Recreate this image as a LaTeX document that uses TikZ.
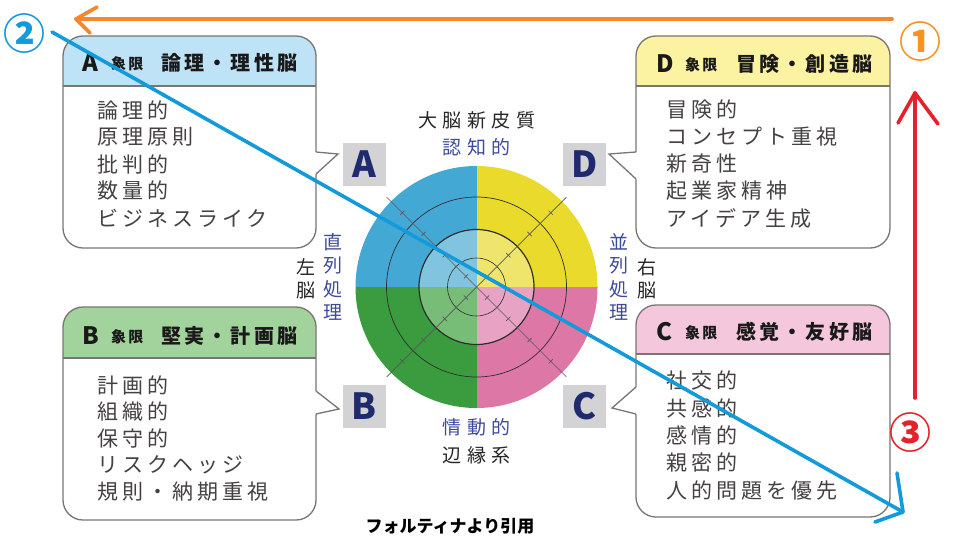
\documentclass[tikz,border=0pt]{standalone}
\usepackage{fontspec}
\usetikzlibrary{calc}
\setmainfont{Noto Sans CJK JP}
\newfontfamily\bodyfont[LetterSpace=19]{Noto Sans CJK JP}
\newfontfamily\hdfont[LetterSpace=16]{Noto Sans CJK JP}
\newfontfamily\smallhd[LetterSpace=15]{Noto Sans CJK JP}
\newfontfamily\midfont[LetterSpace=29]{Noto Sans CJK JP}
\newfontfamily\plainjp{Noto Sans CJK JP}
\definecolor{hdrA}{HTML}{BEE3F6}
\definecolor{hdrD}{HTML}{FBF2A2}
\definecolor{hdrB}{HTML}{A3D39C}
\definecolor{hdrC}{HTML}{F4C7DC}
\definecolor{qA}{HTML}{43A9D4}
\definecolor{qD}{HTML}{E9DA2B}
\definecolor{qB}{HTML}{3A9C3E}
\definecolor{qC}{HTML}{DD77A6}
\definecolor{iA}{HTML}{80C4E0}
\definecolor{iD}{HTML}{F0E56C}
\definecolor{iB}{HTML}{77BD77}
\definecolor{iC}{HTML}{E8A3C4}
\definecolor{navy}{HTML}{1F2B6C}
\definecolor{lblue}{HTML}{3D4A9C}
\definecolor{bodygray}{HTML}{454141}
\definecolor{bline}{HTML}{7A7473}
\definecolor{sqgray}{HTML}{D3D3D6}
\definecolor{arrOrange}{HTML}{F7872C}
\definecolor{arrRed}{HTML}{E6212B}
\definecolor{arrBlue}{HTML}{139ADB}
\definecolor{numOrange}{HTML}{F7931E}
\definecolor{ringline}{HTML}{2E2E2E}
\newcommand\quadbox[6]{%
  \fill[white,rounded corners=20pt] (#1,#2) rectangle (#3,#4);
  \begin{scope}
    \clip[rounded corners=20pt] (#1,#2) rectangle (#3,#4);
    \fill[#6] (#1,#2) rectangle (#3,#5);
  \end{scope}
  \draw[boxline] (#1,#5) -- (#3,#5);
  \draw[boxline,rounded corners=20pt] (#1,#2) rectangle (#3,#4);}
\tikzset{
  boxline/.style={draw=bline,line width=1.3pt},
  bodytxt/.style={anchor=west,inner sep=0pt,text=bodygray,font=\bodyfont\fontsize{21}{27}\selectfont},
  hdletter/.style={anchor=west,inner sep=0pt,text=black!90,font=\plainjp\bfseries\fontsize{24}{24}\selectfont},
  hdsmall/.style={anchor=west,inner sep=0pt,text=black!90,font=\smallhd\bfseries\fontsize{15}{15}\selectfont},
  hdtitle/.style={anchor=west,inner sep=0pt,text=black!90,font=\hdfont\bfseries\fontsize{20}{20}\selectfont},
  sqlabel/.style={fill=sqgray,minimum size=43pt,inner sep=0pt,text=navy,font=\plainjp\bfseries\fontsize{36}{36}\selectfont},
  midblack/.style={inner sep=0pt,text=black!85,font=\midfont\fontsize{19}{19}\selectfont},
  midblue/.style={inner sep=0pt,text=lblue,font=\midfont\fontsize{19}{19}\selectfont},
  vertblue/.style={inner sep=0pt,align=center,text=lblue,font=\plainjp\fontsize{19}{23.5}\selectfont},
  vertblack/.style={inner sep=0pt,align=center,text=black!85,font=\plainjp\fontsize{19}{23}\selectfont},
  arrowline/.style={line width=3.6pt,line cap=round,line join=round},
  circnum/.style={inner sep=0pt,font=\plainjp\bfseries\fontsize{42}{42}\selectfont}
}
\begin{document}
\begin{tikzpicture}[x=1pt,y=-1pt]
\useasboundingbox (0,0) rectangle (965,557);
\fill[white] (0,0) rectangle (965,557);

% ---------- quadrant boxes ----------
\quadbox{63}{36}{316}{248}{86}{hdrA}
\fill[white] (314.8,152) -- (316,152) -- (338,154) -- (316,174) -- (314.8,174) -- cycle;
\draw[boxline,line join=miter] (316,152) -- (338,154) -- (316,174);

\quadbox{636}{36}{890}{248}{86}{hdrD}
\fill[white] (637.2,152) -- (636,152) -- (609,154) -- (636,179) -- (637.2,179) -- cycle;
\draw[boxline,line join=miter] (636,152) -- (609,154) -- (636,179);

\quadbox{63}{307}{316}{520}{358}{hdrB}
\fill[white] (314.8,391) -- (316,391) -- (339,409) -- (316,414) -- (314.8,414) -- cycle;
\draw[boxline,line join=miter] (316,391) -- (339,409) -- (316,414);

\quadbox{636}{305}{890}{517}{354}{hdrC}
\fill[white] (637.2,387) -- (636,387) -- (612,408) -- (636,414) -- (637.2,414) -- cycle;
\draw[boxline,line join=miter] (636,387) -- (612,408) -- (636,414);

% headers
\node[hdletter] (hA) at (82,63) {A};
\node[hdsmall] (hA2) at (111,64) {象限};
\node[hdtitle] (hA3) at (161,63) {論理・理性脳};
\node[hdletter] (hD) at (656,64) {D};
\node[hdsmall] (hD2) at (685,65) {象限};
\node[hdtitle] (hD3) at (736,64) {冒険・創造脳};
\node[hdletter] (hB) at (82,336) {B};
\node[hdsmall] (hB2) at (111,337) {象限};
\node[hdtitle] (hB3) at (161,336) {堅実・計画脳};
\node[hdletter] (hC) at (656,332) {C};
\node[hdsmall] (hC2) at (685,333) {象限};
\node[hdtitle] (hC3) at (736,332) {感覚・友好脳};

% bodies
\node[bodytxt] (a1) at (97,110) {論理的};
\node[bodytxt] (a2) at (97,137) {原理原則};
\node[bodytxt] (a3) at (97,164) {批判的};
\node[bodytxt] (a4) at (97,191) {数量的};
\node[bodytxt] (a5) at (97,218) {ビジネスライク};
\node[bodytxt] (d1) at (666,110) {冒険的};
\node[bodytxt] (d2) at (666,137) {コンセプト重視};
\node[bodytxt] (d3) at (666,164) {新奇性};
\node[bodytxt] (d4) at (666,191) {起業家精神};
\node[bodytxt] (d5) at (666,218) {アイデア生成};
\node[bodytxt] (b1) at (97,385) {計画的};
\node[bodytxt] (b2) at (97,412) {組織的};
\node[bodytxt] (b3) at (97,438) {保守的};
\node[bodytxt] (b4) at (97,465) {リスクヘッジ};
\node[bodytxt] (b5) at (97,492) {規則・納期重視};
\node[bodytxt] (c1) at (666,381) {社交的};
\node[bodytxt] (c2) at (666,408) {共感的};
\node[bodytxt] (c3) at (666,435) {感情的};
\node[bodytxt] (c4) at (666,463) {親密的};
\node[bodytxt] (c5) at (666,491) {人的問題を優先};

% ---------- central circle ----------
\coordinate (c) at (476.5,287);
\begin{scope}
  \clip (c) circle (121pt);
  \fill[qA] (c) rectangle ++(-130,-130);
  \fill[qD] (c) rectangle ++(130,-130);
  \fill[qB] (c) rectangle ++(-130,130);
  \fill[qC] (c) rectangle ++(130,130);
\end{scope}
\begin{scope}
  \clip (c) circle (57.5pt);
  \fill[iA] (c) rectangle ++(-60,-60);
  \fill[iD] (c) rectangle ++(60,-60);
  \fill[iB] (c) rectangle ++(-60,60);
  \fill[iC] (c) rectangle ++(60,60);
\end{scope}
\draw[ringline,line width=0.7pt] (c) circle (90pt);
\draw[ringline,line width=1.2pt] (c) circle (57.5pt);
\draw[ringline,line width=0.6pt] (c) circle (29pt);
\draw[ringline!80,line width=0.7pt] ($(c)+(-89.8,-89.8)$) -- ($(c)+(89.8,89.8)$);
\draw[ringline!80,line width=0.7pt] ($(c)+(89.8,-89.8)$) -- ($(c)+(-89.8,89.8)$);
\foreach \a in {45,135,225,315}{
  \foreach \d in {15,45,75,105}{
    \draw[ringline!80,line width=0.7pt] ($(c)+(\a:\d pt)+(\a+90:3pt)$) -- ($(c)+(\a:\d pt)+(\a-90:3pt)$);
  }
}

% squares
\node[sqlabel] (sqA) at (364.5,164) {A};
\node[sqlabel] (sqD) at (584.5,164) {D};
\node[sqlabel] (sqB) at (364.5,406) {B};
\node[sqlabel] (sqC) at (584.5,406) {C};

% center labels
\node[midblack] (top1) at (477,120) {大脳新皮質};
\node[midblue] (top2) at (477,147) {認知的};
\node[midblue] (bot1) at (477,427) {情動的};
\node[midblack] (bot2) at (477,455) {辺縁系};
\node[vertblue] (lv) at (333,277) {直\\列\\処\\理};
\node[vertblack] (lb) at (306,278.5) {左\\脳};
\node[vertblue] (rv) at (619,277) {並\\列\\処\\理};
\node[vertblack] (rb) at (647,278.5) {右\\脳};

% caption
\node[inner sep=0pt,font=\plainjp\bfseries\fontsize{17}{17}\selectfont] (cap) at (450,526) {フォルティナより引用};

% ---------- arrows ----------
\coordinate (oS) at (892,19);
\coordinate (oE) at (76,19);
\coordinate (oA1) at (97,7);
\coordinate (oA2) at (90,33);
\draw[arrowline,arrOrange] (oS) -- (oE);
\draw[arrowline,arrOrange] (oA1) -- (oE) -- (oA2);

\coordinate (rS) at (915,398);
\coordinate (rE) at (915,93);
\coordinate (rA1) at (898,123);
\coordinate (rA2) at (938,124);
\draw[arrowline,arrRed] (rS) -- (rE);
\draw[arrowline,arrRed] (rA1) -- (rE) -- (rA2);

\coordinate (bS) at (52,32);
\coordinate (bE) at (903,512);
\coordinate (bA1) at (897,473);
\coordinate (bA2) at (875,522);
\draw[arrowline,arrBlue] (bS) -- (bE);
\draw[arrowline,arrBlue] (bA1) -- (bE) -- (bA2);

% numbers
\node[circnum,text=numOrange] (n1) at (920,42) {①};
\node[circnum,text=arrBlue] (n2) at (24,34) {②};
\node[circnum,text=arrRed] (n3) at (910,433) {③};
\end{tikzpicture}
\end{document}
